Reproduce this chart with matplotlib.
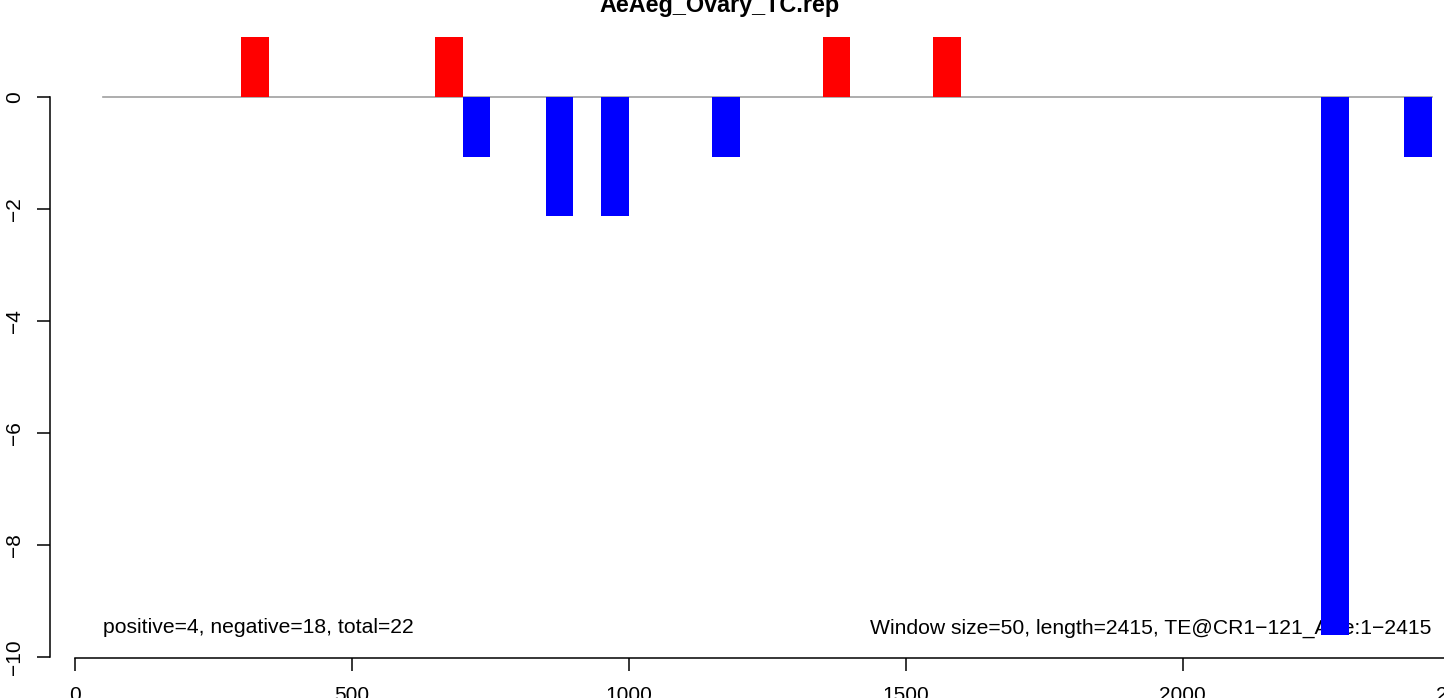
import matplotlib
matplotlib.use("Agg")
import matplotlib.pyplot as plt

plt.rcParams['font.family'] = ['Liberation Sans', 'DejaVu Sans']

title = "AeAeg_Ovary_TC.rep"
pos_starts = [300, 650, 1350, 1550]
pos_values = [1.07, 1.07, 1.07, 1.07]
neg_starts = [700, 850, 950, 1150, 2250, 2400]
neg_values = [-1.07, -2.13, -2.13, -1.07, -9.6, -1.07]
window = 50
seq_start, seq_end = 50, 2450
xticks = [0, 500, 1000, 1500, 2000, 2500]
yticks = [-10, -8, -6, -4, -2, 0]
left_note = "positive=4, negative=18, total=22"
right_note = "Window size=50, length=2415, TE@CR1\u2212121_AAe:1\u22122415"

W, H = 1444, 698
fig = plt.figure(figsize=(W / 100, H / 100), dpi=100)
px_l, px_r, px_b, px_t = 50, 1470, 658, 0
ax = fig.add_axes([px_l / W, (H - px_b) / H, (px_r - px_l) / W, (px_b - px_t) / H])

x0px, xs = 75, 0.5538
y0px, ys = 97, 56.0
ax.set_xlim((px_l - x0px) / xs, (px_r - x0px) / xs)
ax.set_ylim(-(px_b - y0px) / ys, (y0px - px_t) / ys)

ax.plot([seq_start, seq_end], [0, 0], color='#A0A0A0', lw=1.2, zorder=2)
ax.bar(pos_starts, pos_values, width=window, align='edge', color='#FF0000', zorder=3, linewidth=0)
ax.bar(neg_starts, neg_values, width=window, align='edge', color='#0000FF', zorder=3, linewidth=0)

ax.text(50, -9.48, left_note, ha='left', va='center', fontsize=15.2, zorder=1)
ax.text(2450, -9.48, right_note, ha='right', va='center', fontsize=15.2, zorder=1)

for s in ['top', 'right']:
    ax.spines[s].set_visible(False)
ax.spines['left'].set_bounds(-10, 0)
ax.spines['bottom'].set_bounds(0, 2500)
for s in ['left', 'bottom']:
    ax.spines[s].set_linewidth(1.1)

ax.set_xticks(xticks)
ax.set_xticklabels([str(v) for v in xticks])
ax.set_yticks(yticks)
ax.set_yticklabels([str(v).replace('-', '\u2212') for v in yticks], rotation=90, va='center')
ax.tick_params(axis='both', length=9.4, width=1.1, labelsize=15)
ax.tick_params(axis='x', pad=10.5)
ax.tick_params(axis='y', pad=9)

fig.text(720 / W, (H - 12) / H, title, ha='center', va='baseline', fontsize=16.8, fontweight='bold')

fig.savefig('out.png', dpi=100)
